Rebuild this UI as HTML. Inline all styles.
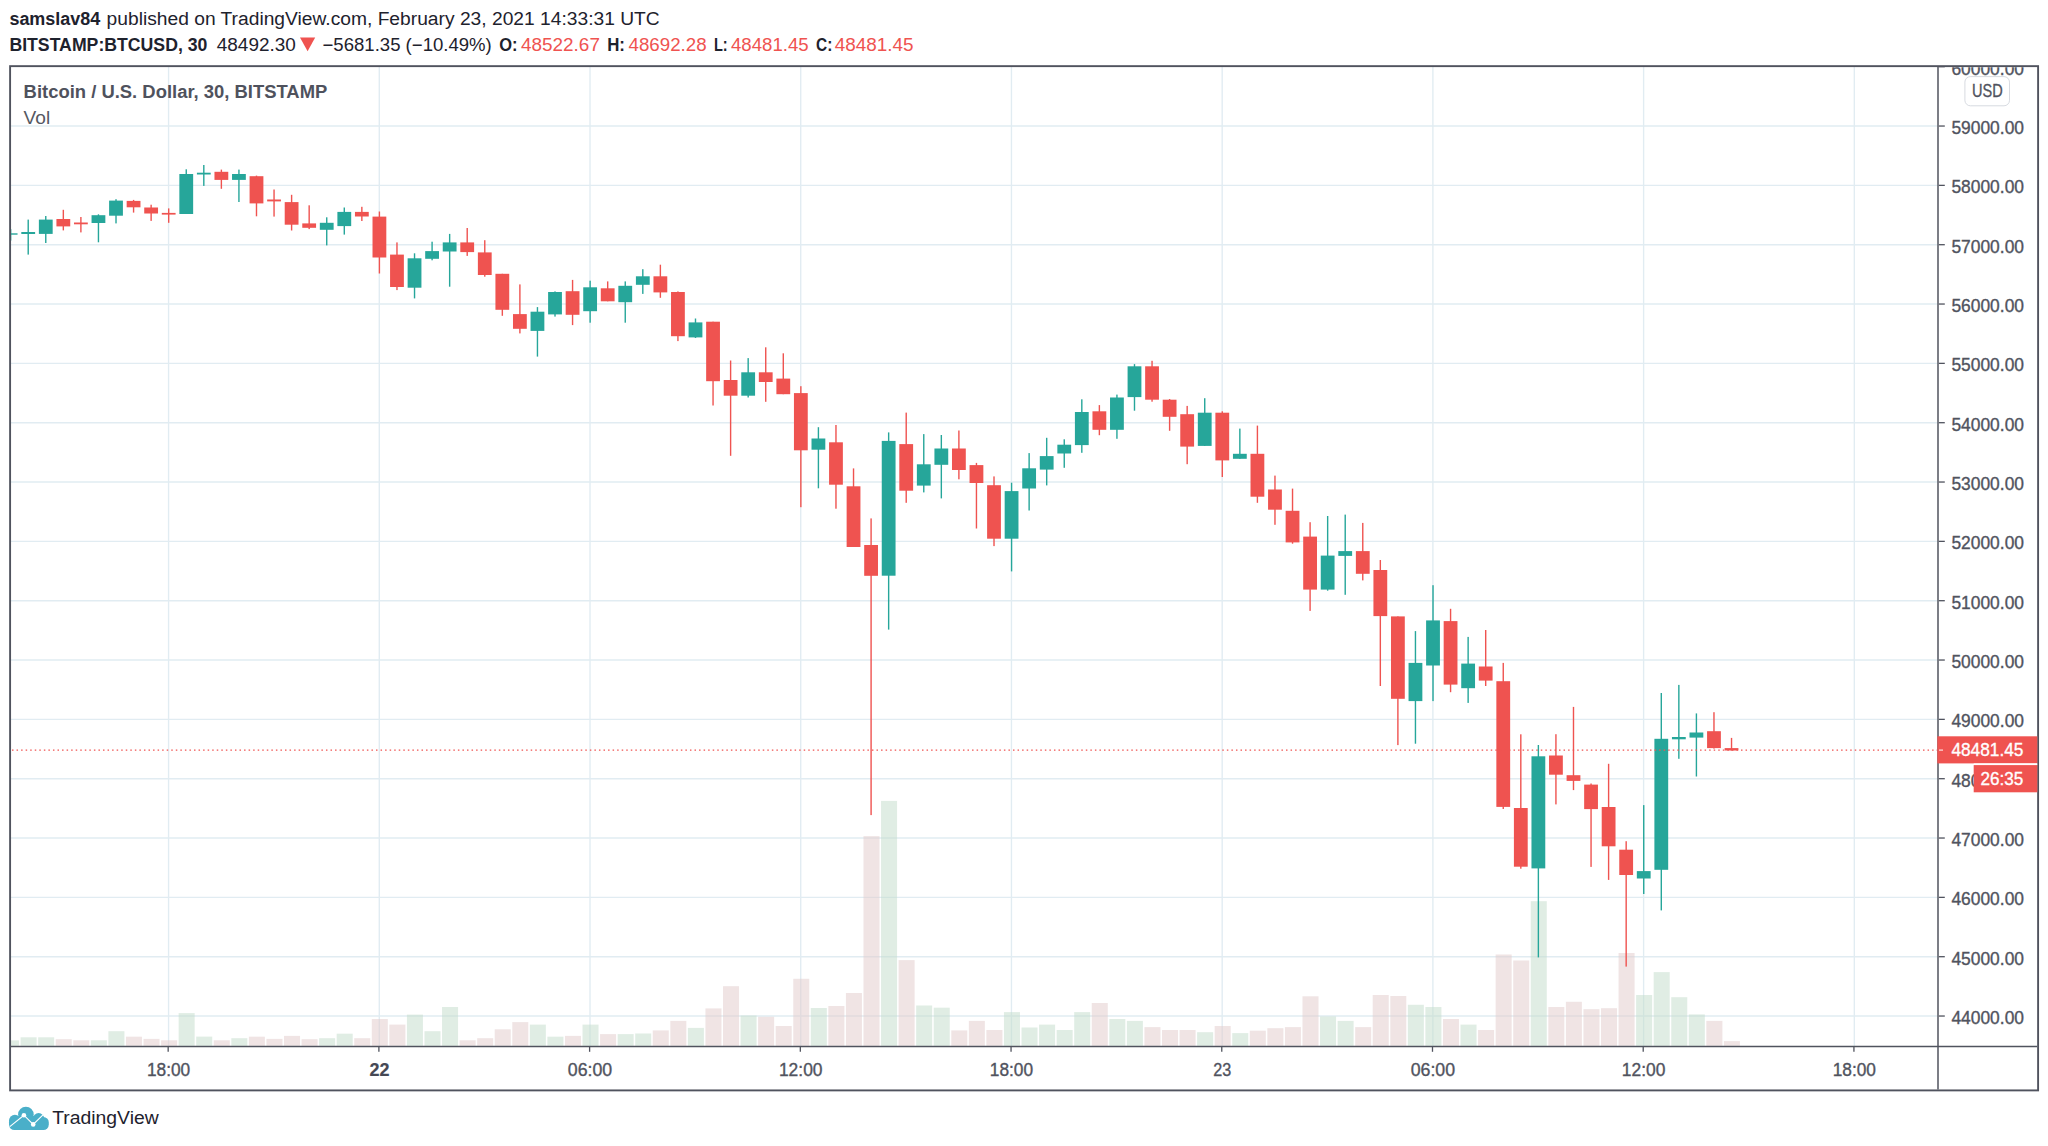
<!DOCTYPE html>
<html lang="en"><head><meta charset="utf-8"><title>BTCUSD chart</title>
<style>html,body{margin:0;padding:0;background:#fff}svg{display:block}text{font-family:"Liberation Sans",sans-serif}.b{font-weight:700}</style></head><body>
<svg width="2048" height="1146" viewBox="0 0 2048 1146">
<rect width="2048" height="1146" fill="#fff"/>
<text x="9.4" y="24.5" font-size="18" fill="#1e222d" class="b" textLength="90.9" lengthAdjust="spacingAndGlyphs">samslav84</text>
<text x="106.6" y="24.5" font-size="18" fill="#1e222d" textLength="553.1" lengthAdjust="spacingAndGlyphs">published on TradingView.com, February 23, 2021 14:33:31 UTC</text>
<text x="9.4" y="50.5" font-size="18" fill="#1e222d" class="b" textLength="198" lengthAdjust="spacingAndGlyphs">BITSTAMP:BTCUSD, 30</text>
<text x="216.8" y="50.5" font-size="18" fill="#1e222d" textLength="79" lengthAdjust="spacingAndGlyphs">48492.30</text>
<path d="M300 37.6 L315.2 37.6 L307.6 51.2 Z" fill="#ef5350"/>
<text x="322.5" y="50.5" font-size="18" fill="#1e222d" textLength="169.3" lengthAdjust="spacingAndGlyphs">−5681.35 (−10.49%)</text>
<text x="499.3" y="50.5" font-size="18" fill="#1e222d" class="b" textLength="18.3" lengthAdjust="spacingAndGlyphs">O:</text>
<text x="521" y="50.5" font-size="18" fill="#ef5350" textLength="78.9" lengthAdjust="spacingAndGlyphs">48522.67</text>
<text x="607.2" y="50.5" font-size="18" fill="#1e222d" class="b" textLength="17.8" lengthAdjust="spacingAndGlyphs">H:</text>
<text x="628.5" y="50.5" font-size="18" fill="#ef5350" textLength="78.1" lengthAdjust="spacingAndGlyphs">48692.28</text>
<text x="713.9" y="50.5" font-size="18" fill="#1e222d" class="b" textLength="13.7" lengthAdjust="spacingAndGlyphs">L:</text>
<text x="731" y="50.5" font-size="18" fill="#ef5350" textLength="77.7" lengthAdjust="spacingAndGlyphs">48481.45</text>
<text x="816" y="50.5" font-size="18" fill="#1e222d" class="b" textLength="16.3" lengthAdjust="spacingAndGlyphs">C:</text>
<text x="834.8" y="50.5" font-size="18" fill="#ef5350" textLength="78.8" lengthAdjust="spacingAndGlyphs">48481.45</text>
<g stroke="#e1ecf2" stroke-width="1.37" fill="none">
<path d="M168.57 67.1 V1045.9"/>
<path d="M379.29 67.1 V1045.9"/>
<path d="M590.01 67.1 V1045.9"/>
<path d="M800.73 67.1 V1045.9"/>
<path d="M1011.45 67.1 V1045.9"/>
<path d="M1222.17 67.1 V1045.9"/>
<path d="M1432.89 67.1 V1045.9"/>
<path d="M1643.61 67.1 V1045.9"/>
<path d="M1854.33 67.1 V1045.9"/>
<path d="M11 1016.03 H1937.3"/>
<path d="M11 956.7 H1937.3"/>
<path d="M11 897.37 H1937.3"/>
<path d="M11 838.03 H1937.3"/>
<path d="M11 778.7 H1937.3"/>
<path d="M11 719.37 H1937.3"/>
<path d="M11 660.03 H1937.3"/>
<path d="M11 600.7 H1937.3"/>
<path d="M11 541.37 H1937.3"/>
<path d="M11 482.03 H1937.3"/>
<path d="M11 422.7 H1937.3"/>
<path d="M11 363.37 H1937.3"/>
<path d="M11 304.04 H1937.3"/>
<path d="M11 244.7 H1937.3"/>
<path d="M11 185.37 H1937.3"/>
<path d="M11 126.04 H1937.3"/>
</g>
<rect x="11" y="1040.4" width="8.05" height="5.5" fill="#c1dbc9" fill-opacity="0.5"/>
<rect x="20.61" y="1037.3" width="16" height="8.6" fill="#c1dbc9" fill-opacity="0.5"/>
<rect x="38.17" y="1037.3" width="16" height="8.6" fill="#c1dbc9" fill-opacity="0.5"/>
<rect x="55.73" y="1039.2" width="16" height="6.7" fill="#e1c9c9" fill-opacity="0.5"/>
<rect x="73.29" y="1040.3" width="16" height="5.6" fill="#e1c9c9" fill-opacity="0.5"/>
<rect x="90.85" y="1040.3" width="16" height="5.6" fill="#c1dbc9" fill-opacity="0.5"/>
<rect x="108.41" y="1031.2" width="16" height="14.7" fill="#c1dbc9" fill-opacity="0.5"/>
<rect x="125.97" y="1036.7" width="16" height="9.2" fill="#e1c9c9" fill-opacity="0.5"/>
<rect x="143.53" y="1038.9" width="16" height="7" fill="#e1c9c9" fill-opacity="0.5"/>
<rect x="161.09" y="1040.3" width="16" height="5.6" fill="#e1c9c9" fill-opacity="0.5"/>
<rect x="178.65" y="1013.1" width="16" height="32.8" fill="#c1dbc9" fill-opacity="0.5"/>
<rect x="196.21" y="1036.6" width="16" height="9.3" fill="#c1dbc9" fill-opacity="0.5"/>
<rect x="213.77" y="1040.3" width="16" height="5.6" fill="#e1c9c9" fill-opacity="0.5"/>
<rect x="231.33" y="1038.2" width="16" height="7.7" fill="#c1dbc9" fill-opacity="0.5"/>
<rect x="248.89" y="1036.7" width="16" height="9.2" fill="#e1c9c9" fill-opacity="0.5"/>
<rect x="266.45" y="1038.9" width="16" height="7" fill="#e1c9c9" fill-opacity="0.5"/>
<rect x="284.01" y="1035.9" width="16" height="10" fill="#e1c9c9" fill-opacity="0.5"/>
<rect x="301.57" y="1039.2" width="16" height="6.7" fill="#e1c9c9" fill-opacity="0.5"/>
<rect x="319.13" y="1038.2" width="16" height="7.7" fill="#c1dbc9" fill-opacity="0.5"/>
<rect x="336.69" y="1033.7" width="16" height="12.2" fill="#c1dbc9" fill-opacity="0.5"/>
<rect x="354.25" y="1038.2" width="16" height="7.7" fill="#e1c9c9" fill-opacity="0.5"/>
<rect x="371.81" y="1019" width="16" height="26.9" fill="#e1c9c9" fill-opacity="0.5"/>
<rect x="389.37" y="1024.6" width="16" height="21.3" fill="#e1c9c9" fill-opacity="0.5"/>
<rect x="406.93" y="1014.6" width="16" height="31.3" fill="#c1dbc9" fill-opacity="0.5"/>
<rect x="424.49" y="1031.2" width="16" height="14.7" fill="#c1dbc9" fill-opacity="0.5"/>
<rect x="442.05" y="1007" width="16" height="38.9" fill="#c1dbc9" fill-opacity="0.5"/>
<rect x="459.61" y="1040.3" width="16" height="5.6" fill="#e1c9c9" fill-opacity="0.5"/>
<rect x="477.17" y="1038.2" width="16" height="7.7" fill="#e1c9c9" fill-opacity="0.5"/>
<rect x="494.73" y="1029.3" width="16" height="16.6" fill="#e1c9c9" fill-opacity="0.5"/>
<rect x="512.29" y="1022.1" width="16" height="23.8" fill="#e1c9c9" fill-opacity="0.5"/>
<rect x="529.85" y="1024.6" width="16" height="21.3" fill="#c1dbc9" fill-opacity="0.5"/>
<rect x="547.41" y="1036.7" width="16" height="9.2" fill="#c1dbc9" fill-opacity="0.5"/>
<rect x="564.97" y="1035.9" width="16" height="10" fill="#e1c9c9" fill-opacity="0.5"/>
<rect x="582.53" y="1024.6" width="16" height="21.3" fill="#c1dbc9" fill-opacity="0.5"/>
<rect x="600.09" y="1034.1" width="16" height="11.8" fill="#e1c9c9" fill-opacity="0.5"/>
<rect x="617.65" y="1034.1" width="16" height="11.8" fill="#c1dbc9" fill-opacity="0.5"/>
<rect x="635.21" y="1033.5" width="16" height="12.4" fill="#c1dbc9" fill-opacity="0.5"/>
<rect x="652.77" y="1030.4" width="16" height="15.5" fill="#e1c9c9" fill-opacity="0.5"/>
<rect x="670.33" y="1020.9" width="16" height="25" fill="#e1c9c9" fill-opacity="0.5"/>
<rect x="687.89" y="1027.9" width="16" height="18" fill="#c1dbc9" fill-opacity="0.5"/>
<rect x="705.45" y="1008.4" width="16" height="37.5" fill="#e1c9c9" fill-opacity="0.5"/>
<rect x="723.01" y="986.2" width="16" height="59.7" fill="#e1c9c9" fill-opacity="0.5"/>
<rect x="740.57" y="1015.5" width="16" height="30.4" fill="#c1dbc9" fill-opacity="0.5"/>
<rect x="758.13" y="1016.8" width="16" height="29.1" fill="#e1c9c9" fill-opacity="0.5"/>
<rect x="775.69" y="1026" width="16" height="19.9" fill="#e1c9c9" fill-opacity="0.5"/>
<rect x="793.25" y="978.8" width="16" height="67.1" fill="#e1c9c9" fill-opacity="0.5"/>
<rect x="810.81" y="1008" width="16" height="37.9" fill="#c1dbc9" fill-opacity="0.5"/>
<rect x="828.37" y="1006" width="16" height="39.9" fill="#e1c9c9" fill-opacity="0.5"/>
<rect x="845.93" y="993" width="16" height="52.9" fill="#e1c9c9" fill-opacity="0.5"/>
<rect x="863.49" y="836.1" width="16" height="209.8" fill="#e1c9c9" fill-opacity="0.5"/>
<rect x="881.05" y="800.9" width="16" height="245" fill="#c1dbc9" fill-opacity="0.5"/>
<rect x="898.61" y="960.1" width="16" height="85.8" fill="#e1c9c9" fill-opacity="0.5"/>
<rect x="916.17" y="1005.5" width="16" height="40.4" fill="#c1dbc9" fill-opacity="0.5"/>
<rect x="933.73" y="1007.7" width="16" height="38.2" fill="#c1dbc9" fill-opacity="0.5"/>
<rect x="951.29" y="1030.4" width="16" height="15.5" fill="#e1c9c9" fill-opacity="0.5"/>
<rect x="968.85" y="1020.9" width="16" height="25" fill="#e1c9c9" fill-opacity="0.5"/>
<rect x="986.41" y="1030" width="16" height="15.9" fill="#e1c9c9" fill-opacity="0.5"/>
<rect x="1003.97" y="1012.1" width="16" height="33.8" fill="#c1dbc9" fill-opacity="0.5"/>
<rect x="1021.53" y="1027.5" width="16" height="18.4" fill="#c1dbc9" fill-opacity="0.5"/>
<rect x="1039.09" y="1024.6" width="16" height="21.3" fill="#c1dbc9" fill-opacity="0.5"/>
<rect x="1056.65" y="1030" width="16" height="15.9" fill="#c1dbc9" fill-opacity="0.5"/>
<rect x="1074.21" y="1012.1" width="16" height="33.8" fill="#c1dbc9" fill-opacity="0.5"/>
<rect x="1091.77" y="1003" width="16" height="42.9" fill="#e1c9c9" fill-opacity="0.5"/>
<rect x="1109.33" y="1019" width="16" height="26.9" fill="#c1dbc9" fill-opacity="0.5"/>
<rect x="1126.89" y="1020.9" width="16" height="25" fill="#c1dbc9" fill-opacity="0.5"/>
<rect x="1144.45" y="1027.1" width="16" height="18.8" fill="#e1c9c9" fill-opacity="0.5"/>
<rect x="1162.01" y="1030" width="16" height="15.9" fill="#e1c9c9" fill-opacity="0.5"/>
<rect x="1179.57" y="1030" width="16" height="15.9" fill="#e1c9c9" fill-opacity="0.5"/>
<rect x="1197.13" y="1032.2" width="16" height="13.7" fill="#c1dbc9" fill-opacity="0.5"/>
<rect x="1214.69" y="1026" width="16" height="19.9" fill="#e1c9c9" fill-opacity="0.5"/>
<rect x="1232.25" y="1033.1" width="16" height="12.8" fill="#c1dbc9" fill-opacity="0.5"/>
<rect x="1249.81" y="1030.7" width="16" height="15.2" fill="#e1c9c9" fill-opacity="0.5"/>
<rect x="1267.37" y="1028.2" width="16" height="17.7" fill="#e1c9c9" fill-opacity="0.5"/>
<rect x="1284.93" y="1027.1" width="16" height="18.8" fill="#e1c9c9" fill-opacity="0.5"/>
<rect x="1302.49" y="996.3" width="16" height="49.6" fill="#e1c9c9" fill-opacity="0.5"/>
<rect x="1320.05" y="1016.5" width="16" height="29.4" fill="#c1dbc9" fill-opacity="0.5"/>
<rect x="1337.61" y="1020.9" width="16" height="25" fill="#c1dbc9" fill-opacity="0.5"/>
<rect x="1355.17" y="1027.1" width="16" height="18.8" fill="#e1c9c9" fill-opacity="0.5"/>
<rect x="1372.73" y="995" width="16" height="50.9" fill="#e1c9c9" fill-opacity="0.5"/>
<rect x="1390.29" y="996" width="16" height="49.9" fill="#e1c9c9" fill-opacity="0.5"/>
<rect x="1407.85" y="1004.8" width="16" height="41.1" fill="#c1dbc9" fill-opacity="0.5"/>
<rect x="1425.41" y="1007" width="16" height="38.9" fill="#c1dbc9" fill-opacity="0.5"/>
<rect x="1442.97" y="1019" width="16" height="26.9" fill="#e1c9c9" fill-opacity="0.5"/>
<rect x="1460.53" y="1024.6" width="16" height="21.3" fill="#c1dbc9" fill-opacity="0.5"/>
<rect x="1478.09" y="1030" width="16" height="15.9" fill="#e1c9c9" fill-opacity="0.5"/>
<rect x="1495.65" y="954.5" width="16" height="91.4" fill="#e1c9c9" fill-opacity="0.5"/>
<rect x="1513.21" y="960.5" width="16" height="85.4" fill="#e1c9c9" fill-opacity="0.5"/>
<rect x="1530.77" y="901.2" width="16" height="144.7" fill="#c1dbc9" fill-opacity="0.5"/>
<rect x="1548.33" y="1007" width="16" height="38.9" fill="#e1c9c9" fill-opacity="0.5"/>
<rect x="1565.89" y="1001.8" width="16" height="44.1" fill="#e1c9c9" fill-opacity="0.5"/>
<rect x="1583.45" y="1009.2" width="16" height="36.7" fill="#e1c9c9" fill-opacity="0.5"/>
<rect x="1601.01" y="1008.2" width="16" height="37.7" fill="#e1c9c9" fill-opacity="0.5"/>
<rect x="1618.57" y="953" width="16" height="92.9" fill="#e1c9c9" fill-opacity="0.5"/>
<rect x="1636.13" y="995" width="16" height="50.9" fill="#c1dbc9" fill-opacity="0.5"/>
<rect x="1653.69" y="972.1" width="16" height="73.8" fill="#c1dbc9" fill-opacity="0.5"/>
<rect x="1671.25" y="997.2" width="16" height="48.7" fill="#c1dbc9" fill-opacity="0.5"/>
<rect x="1688.81" y="1014.4" width="16" height="31.5" fill="#c1dbc9" fill-opacity="0.5"/>
<rect x="1706.37" y="1020.9" width="16" height="25" fill="#e1c9c9" fill-opacity="0.5"/>
<rect x="1723.93" y="1041.1" width="16" height="4.8" fill="#e1c9c9" fill-opacity="0.5"/>
<rect x="10.4" y="229.2" width="0.95" height="11.4" fill="#26a69a"/>
<rect x="11" y="233.3" width="6.55" height="1.4" fill="#26a69a"/>
<rect x="27.51" y="219.6" width="1.4" height="35" fill="#26a69a"/>
<rect x="21.31" y="232" width="13.8" height="2" fill="#26a69a"/>
<rect x="45.07" y="216" width="1.4" height="27" fill="#26a69a"/>
<rect x="38.87" y="219.6" width="13.8" height="14.3" fill="#26a69a"/>
<rect x="62.63" y="209.8" width="1.4" height="20.6" fill="#ef5350"/>
<rect x="56.43" y="219" width="13.8" height="7.4" fill="#ef5350"/>
<rect x="80.19" y="217" width="1.4" height="15.4" fill="#ef5350"/>
<rect x="73.99" y="222.5" width="13.8" height="1.8" fill="#ef5350"/>
<rect x="97.75" y="214.3" width="1.4" height="28" fill="#26a69a"/>
<rect x="91.55" y="215.2" width="13.8" height="7.8" fill="#26a69a"/>
<rect x="115.31" y="199.2" width="1.4" height="24.2" fill="#26a69a"/>
<rect x="109.11" y="200.6" width="13.8" height="15.1" fill="#26a69a"/>
<rect x="132.87" y="199.9" width="1.4" height="12.7" fill="#ef5350"/>
<rect x="126.67" y="200.9" width="13.8" height="6.4" fill="#ef5350"/>
<rect x="150.43" y="204.7" width="1.4" height="16.2" fill="#ef5350"/>
<rect x="144.23" y="207.5" width="13.8" height="6" fill="#ef5350"/>
<rect x="167.99" y="208.4" width="1.4" height="14.4" fill="#ef5350"/>
<rect x="161.79" y="212.9" width="13.8" height="1.7" fill="#ef5350"/>
<rect x="185.55" y="169.3" width="1.4" height="44.7" fill="#26a69a"/>
<rect x="179.35" y="174" width="13.8" height="40" fill="#26a69a"/>
<rect x="203.11" y="165" width="1.4" height="20.9" fill="#26a69a"/>
<rect x="196.91" y="172.7" width="13.8" height="1.8" fill="#26a69a"/>
<rect x="220.67" y="169.6" width="1.4" height="19.2" fill="#ef5350"/>
<rect x="214.47" y="171.8" width="13.8" height="8.1" fill="#ef5350"/>
<rect x="238.23" y="169.6" width="1.4" height="32.4" fill="#26a69a"/>
<rect x="232.03" y="174" width="13.8" height="5.9" fill="#26a69a"/>
<rect x="255.79" y="175.6" width="1.4" height="40.7" fill="#ef5350"/>
<rect x="249.59" y="176.2" width="13.8" height="27.2" fill="#ef5350"/>
<rect x="273.35" y="189.5" width="1.4" height="27.1" fill="#ef5350"/>
<rect x="267.15" y="199.5" width="13.8" height="1.9" fill="#ef5350"/>
<rect x="290.91" y="194.8" width="1.4" height="35.7" fill="#ef5350"/>
<rect x="284.71" y="202.1" width="13.8" height="22.6" fill="#ef5350"/>
<rect x="308.47" y="205.3" width="1.4" height="23.8" fill="#ef5350"/>
<rect x="302.27" y="223.4" width="13.8" height="4.4" fill="#ef5350"/>
<rect x="326.03" y="217.3" width="1.4" height="28.1" fill="#26a69a"/>
<rect x="319.83" y="222.8" width="13.8" height="7" fill="#26a69a"/>
<rect x="343.59" y="207.5" width="1.4" height="27.1" fill="#26a69a"/>
<rect x="337.39" y="211.9" width="13.8" height="14.2" fill="#26a69a"/>
<rect x="361.15" y="206.8" width="1.4" height="14.2" fill="#ef5350"/>
<rect x="354.95" y="211.9" width="13.8" height="4.6" fill="#ef5350"/>
<rect x="378.71" y="211.5" width="1.4" height="62" fill="#ef5350"/>
<rect x="372.51" y="216.6" width="13.8" height="40.9" fill="#ef5350"/>
<rect x="396.27" y="242.4" width="1.4" height="47.7" fill="#ef5350"/>
<rect x="390.07" y="254.6" width="13.8" height="32.4" fill="#ef5350"/>
<rect x="413.83" y="253.3" width="1.4" height="45.1" fill="#26a69a"/>
<rect x="407.63" y="258.3" width="13.8" height="29.4" fill="#26a69a"/>
<rect x="431.39" y="241.7" width="1.4" height="18.6" fill="#26a69a"/>
<rect x="425.19" y="251.1" width="13.8" height="7.7" fill="#26a69a"/>
<rect x="448.95" y="233.9" width="1.4" height="52.8" fill="#26a69a"/>
<rect x="442.75" y="242.4" width="13.8" height="9.1" fill="#26a69a"/>
<rect x="466.51" y="228" width="1.4" height="27.9" fill="#ef5350"/>
<rect x="460.31" y="242.4" width="13.8" height="9.7" fill="#ef5350"/>
<rect x="484.07" y="240.2" width="1.4" height="36.5" fill="#ef5350"/>
<rect x="477.87" y="252.4" width="13.8" height="22.6" fill="#ef5350"/>
<rect x="501.63" y="273.8" width="1.4" height="42" fill="#ef5350"/>
<rect x="495.43" y="273.8" width="13.8" height="36" fill="#ef5350"/>
<rect x="519.19" y="284.4" width="1.4" height="49" fill="#ef5350"/>
<rect x="512.99" y="314.1" width="13.8" height="14.7" fill="#ef5350"/>
<rect x="536.75" y="307.1" width="1.4" height="49.5" fill="#26a69a"/>
<rect x="530.55" y="311.7" width="13.8" height="19.2" fill="#26a69a"/>
<rect x="554.31" y="291.4" width="1.4" height="25.2" fill="#26a69a"/>
<rect x="548.11" y="292" width="13.8" height="22.4" fill="#26a69a"/>
<rect x="571.87" y="279.9" width="1.4" height="45.2" fill="#ef5350"/>
<rect x="565.67" y="291.2" width="13.8" height="23.6" fill="#ef5350"/>
<rect x="589.43" y="280.7" width="1.4" height="42" fill="#26a69a"/>
<rect x="583.23" y="287.3" width="13.8" height="23.9" fill="#26a69a"/>
<rect x="606.99" y="281.4" width="1.4" height="19.9" fill="#ef5350"/>
<rect x="600.79" y="288.3" width="13.8" height="13" fill="#ef5350"/>
<rect x="624.55" y="281.4" width="1.4" height="41.3" fill="#26a69a"/>
<rect x="618.35" y="285.8" width="13.8" height="16.4" fill="#26a69a"/>
<rect x="642.11" y="269.2" width="1.4" height="24.7" fill="#26a69a"/>
<rect x="635.91" y="276.3" width="13.8" height="8.5" fill="#26a69a"/>
<rect x="659.67" y="264.7" width="1.4" height="33.1" fill="#ef5350"/>
<rect x="653.47" y="276.3" width="13.8" height="16.1" fill="#ef5350"/>
<rect x="677.23" y="291.4" width="1.4" height="49.7" fill="#ef5350"/>
<rect x="671.03" y="292" width="13.8" height="44.2" fill="#ef5350"/>
<rect x="694.79" y="318.5" width="1.4" height="19.5" fill="#26a69a"/>
<rect x="688.59" y="322.4" width="13.8" height="15" fill="#26a69a"/>
<rect x="712.35" y="321.7" width="1.4" height="83.8" fill="#ef5350"/>
<rect x="706.15" y="321.7" width="13.8" height="59.5" fill="#ef5350"/>
<rect x="729.91" y="360.5" width="1.4" height="95.3" fill="#ef5350"/>
<rect x="723.71" y="380" width="13.8" height="15.7" fill="#ef5350"/>
<rect x="747.47" y="358.1" width="1.4" height="39.4" fill="#26a69a"/>
<rect x="741.27" y="372.3" width="13.8" height="23.4" fill="#26a69a"/>
<rect x="765.03" y="347.3" width="1.4" height="54.5" fill="#ef5350"/>
<rect x="758.83" y="372.3" width="13.8" height="9.7" fill="#ef5350"/>
<rect x="782.59" y="353.3" width="1.4" height="40.9" fill="#ef5350"/>
<rect x="776.39" y="378.6" width="13.8" height="15.6" fill="#ef5350"/>
<rect x="800.15" y="386.2" width="1.4" height="121" fill="#ef5350"/>
<rect x="793.95" y="393.1" width="13.8" height="57.2" fill="#ef5350"/>
<rect x="817.71" y="427.2" width="1.4" height="61.1" fill="#26a69a"/>
<rect x="811.51" y="438.5" width="13.8" height="11.2" fill="#26a69a"/>
<rect x="835.27" y="425" width="1.4" height="83.7" fill="#ef5350"/>
<rect x="829.07" y="442.3" width="13.8" height="42.4" fill="#ef5350"/>
<rect x="852.83" y="468.4" width="1.4" height="78.6" fill="#ef5350"/>
<rect x="846.63" y="486.3" width="13.8" height="60.7" fill="#ef5350"/>
<rect x="870.39" y="518.4" width="1.4" height="296.7" fill="#ef5350"/>
<rect x="864.19" y="545" width="13.8" height="30.8" fill="#ef5350"/>
<rect x="887.95" y="432.4" width="1.4" height="197.2" fill="#26a69a"/>
<rect x="881.75" y="440.9" width="13.8" height="134.8" fill="#26a69a"/>
<rect x="905.51" y="412.6" width="1.4" height="90.2" fill="#ef5350"/>
<rect x="899.31" y="444.1" width="13.8" height="46.6" fill="#ef5350"/>
<rect x="923.07" y="434.1" width="1.4" height="58.3" fill="#26a69a"/>
<rect x="916.87" y="464.3" width="13.8" height="21.3" fill="#26a69a"/>
<rect x="940.63" y="435" width="1.4" height="63.4" fill="#26a69a"/>
<rect x="934.43" y="448.5" width="13.8" height="16.3" fill="#26a69a"/>
<rect x="958.19" y="430.5" width="1.4" height="48.8" fill="#ef5350"/>
<rect x="951.99" y="448.5" width="13.8" height="21.5" fill="#ef5350"/>
<rect x="975.75" y="462.9" width="1.4" height="65.6" fill="#ef5350"/>
<rect x="969.55" y="465.1" width="13.8" height="17.9" fill="#ef5350"/>
<rect x="993.31" y="476.4" width="1.4" height="69.7" fill="#ef5350"/>
<rect x="987.11" y="485.2" width="13.8" height="53.5" fill="#ef5350"/>
<rect x="1010.87" y="482.7" width="1.4" height="88.7" fill="#26a69a"/>
<rect x="1004.67" y="491.1" width="13.8" height="47.6" fill="#26a69a"/>
<rect x="1028.43" y="453.1" width="1.4" height="57.4" fill="#26a69a"/>
<rect x="1022.23" y="468.3" width="13.8" height="20.2" fill="#26a69a"/>
<rect x="1045.99" y="437.8" width="1.4" height="47.6" fill="#26a69a"/>
<rect x="1039.79" y="456.1" width="13.8" height="13.5" fill="#26a69a"/>
<rect x="1063.55" y="439.3" width="1.4" height="28.5" fill="#26a69a"/>
<rect x="1057.35" y="444.7" width="13.8" height="8.8" fill="#26a69a"/>
<rect x="1081.11" y="399.3" width="1.4" height="53.5" fill="#26a69a"/>
<rect x="1074.91" y="412" width="13.8" height="33.1" fill="#26a69a"/>
<rect x="1098.67" y="405.1" width="1.4" height="30.1" fill="#ef5350"/>
<rect x="1092.47" y="411.3" width="13.8" height="18.5" fill="#ef5350"/>
<rect x="1116.23" y="394.6" width="1.4" height="44.2" fill="#26a69a"/>
<rect x="1110.03" y="397.5" width="13.8" height="32.3" fill="#26a69a"/>
<rect x="1133.79" y="364.1" width="1.4" height="46.6" fill="#26a69a"/>
<rect x="1127.59" y="366.3" width="13.8" height="30.8" fill="#26a69a"/>
<rect x="1151.35" y="360.8" width="1.4" height="40.9" fill="#ef5350"/>
<rect x="1145.15" y="366.3" width="13.8" height="33.4" fill="#ef5350"/>
<rect x="1168.91" y="399" width="1.4" height="31.8" fill="#ef5350"/>
<rect x="1162.71" y="399.7" width="13.8" height="17.1" fill="#ef5350"/>
<rect x="1186.47" y="405.9" width="1.4" height="58.3" fill="#ef5350"/>
<rect x="1180.27" y="414.2" width="13.8" height="32.4" fill="#ef5350"/>
<rect x="1204.03" y="398.2" width="1.4" height="47.7" fill="#26a69a"/>
<rect x="1197.83" y="412.7" width="13.8" height="33.2" fill="#26a69a"/>
<rect x="1221.59" y="411.3" width="1.4" height="65.7" fill="#ef5350"/>
<rect x="1215.39" y="412.7" width="13.8" height="47.7" fill="#ef5350"/>
<rect x="1239.15" y="428.6" width="1.4" height="30.2" fill="#26a69a"/>
<rect x="1232.95" y="453.8" width="13.8" height="5" fill="#26a69a"/>
<rect x="1256.71" y="425.6" width="1.4" height="77.2" fill="#ef5350"/>
<rect x="1250.51" y="453.8" width="13.8" height="42.9" fill="#ef5350"/>
<rect x="1274.27" y="475.6" width="1.4" height="49.2" fill="#ef5350"/>
<rect x="1268.07" y="489.5" width="13.8" height="20.2" fill="#ef5350"/>
<rect x="1291.83" y="488.6" width="1.4" height="55.1" fill="#ef5350"/>
<rect x="1285.63" y="510.8" width="13.8" height="31.6" fill="#ef5350"/>
<rect x="1309.39" y="522.2" width="1.4" height="88.7" fill="#ef5350"/>
<rect x="1303.19" y="536.6" width="13.8" height="53" fill="#ef5350"/>
<rect x="1326.95" y="516" width="1.4" height="74.7" fill="#26a69a"/>
<rect x="1320.75" y="555.6" width="13.8" height="34" fill="#26a69a"/>
<rect x="1344.51" y="514.6" width="1.4" height="80.2" fill="#26a69a"/>
<rect x="1338.31" y="551.1" width="13.8" height="4.8" fill="#26a69a"/>
<rect x="1362.07" y="522.9" width="1.4" height="57.5" fill="#ef5350"/>
<rect x="1355.87" y="551.1" width="13.8" height="22.7" fill="#ef5350"/>
<rect x="1379.63" y="560" width="1.4" height="126" fill="#ef5350"/>
<rect x="1373.43" y="570" width="13.8" height="46.1" fill="#ef5350"/>
<rect x="1397.19" y="616.4" width="1.4" height="128.7" fill="#ef5350"/>
<rect x="1390.99" y="616.4" width="13.8" height="82.4" fill="#ef5350"/>
<rect x="1414.75" y="631.1" width="1.4" height="112.6" fill="#26a69a"/>
<rect x="1408.55" y="662.9" width="13.8" height="38.2" fill="#26a69a"/>
<rect x="1432.31" y="585.2" width="1.4" height="115.9" fill="#26a69a"/>
<rect x="1426.11" y="620.4" width="13.8" height="45.1" fill="#26a69a"/>
<rect x="1449.87" y="608.8" width="1.4" height="83.4" fill="#ef5350"/>
<rect x="1443.67" y="621.1" width="13.8" height="63.5" fill="#ef5350"/>
<rect x="1467.43" y="636.9" width="1.4" height="66" fill="#26a69a"/>
<rect x="1461.23" y="663.6" width="13.8" height="24.6" fill="#26a69a"/>
<rect x="1484.99" y="630" width="1.4" height="56" fill="#ef5350"/>
<rect x="1478.79" y="666.5" width="13.8" height="14.1" fill="#ef5350"/>
<rect x="1502.55" y="662.9" width="1.4" height="146.1" fill="#ef5350"/>
<rect x="1496.35" y="681.2" width="13.8" height="125.7" fill="#ef5350"/>
<rect x="1520.11" y="734.3" width="1.4" height="134.4" fill="#ef5350"/>
<rect x="1513.91" y="808" width="13.8" height="58.7" fill="#ef5350"/>
<rect x="1537.67" y="745" width="1.4" height="212.4" fill="#26a69a"/>
<rect x="1531.47" y="756.3" width="13.8" height="112.1" fill="#26a69a"/>
<rect x="1555.23" y="734.2" width="1.4" height="70.2" fill="#ef5350"/>
<rect x="1549.03" y="755.5" width="13.8" height="19.2" fill="#ef5350"/>
<rect x="1572.79" y="706.9" width="1.4" height="83.2" fill="#ef5350"/>
<rect x="1566.59" y="775.2" width="13.8" height="5.7" fill="#ef5350"/>
<rect x="1590.35" y="783.5" width="1.4" height="83.4" fill="#ef5350"/>
<rect x="1584.15" y="784.6" width="13.8" height="24.5" fill="#ef5350"/>
<rect x="1607.91" y="763.8" width="1.4" height="116.1" fill="#ef5350"/>
<rect x="1601.71" y="807" width="13.8" height="39.3" fill="#ef5350"/>
<rect x="1625.47" y="841.2" width="1.4" height="125.4" fill="#ef5350"/>
<rect x="1619.27" y="849.7" width="13.8" height="25.3" fill="#ef5350"/>
<rect x="1643.03" y="805.1" width="1.4" height="88.9" fill="#26a69a"/>
<rect x="1636.83" y="871.1" width="13.8" height="7.4" fill="#26a69a"/>
<rect x="1660.59" y="693" width="1.4" height="217.4" fill="#26a69a"/>
<rect x="1654.39" y="738.8" width="13.8" height="131" fill="#26a69a"/>
<rect x="1678.15" y="684.9" width="1.4" height="73.9" fill="#26a69a"/>
<rect x="1671.95" y="737" width="13.8" height="2.3" fill="#26a69a"/>
<rect x="1695.71" y="713.4" width="1.4" height="63.1" fill="#26a69a"/>
<rect x="1689.51" y="732.5" width="13.8" height="5.1" fill="#26a69a"/>
<rect x="1713.27" y="712.2" width="1.4" height="36.4" fill="#ef5350"/>
<rect x="1707.07" y="731.2" width="13.8" height="16.9" fill="#ef5350"/>
<rect x="1730.83" y="737.9" width="1.4" height="12.6" fill="#ef5350"/>
<rect x="1724.63" y="748.1" width="13.8" height="2.4" fill="#ef5350"/>
<path d="M12 750.1 H1937.3" stroke="#ef5350" stroke-width="1.35" stroke-dasharray="1.5 3.05" fill="none"/>
<text x="23.6" y="97.9" font-size="17.6" fill="#4f525d" class="b" textLength="303.7" lengthAdjust="spacingAndGlyphs">Bitcoin / U.S. Dollar, 30, BITSTAMP</text>
<text x="23.6" y="123.5" font-size="17.6" fill="#555862" textLength="26.6" lengthAdjust="spacingAndGlyphs">Vol</text>
<path d="M1938.8 1016.03 H1944.8" stroke="#50535e" stroke-width="1.3"/>
<path d="M1938.8 956.7 H1944.8" stroke="#50535e" stroke-width="1.3"/>
<path d="M1938.8 897.37 H1944.8" stroke="#50535e" stroke-width="1.3"/>
<path d="M1938.8 838.03 H1944.8" stroke="#50535e" stroke-width="1.3"/>
<path d="M1938.8 778.7 H1944.8" stroke="#50535e" stroke-width="1.3"/>
<path d="M1938.8 719.37 H1944.8" stroke="#50535e" stroke-width="1.3"/>
<path d="M1938.8 660.03 H1944.8" stroke="#50535e" stroke-width="1.3"/>
<path d="M1938.8 600.7 H1944.8" stroke="#50535e" stroke-width="1.3"/>
<path d="M1938.8 541.37 H1944.8" stroke="#50535e" stroke-width="1.3"/>
<path d="M1938.8 482.03 H1944.8" stroke="#50535e" stroke-width="1.3"/>
<path d="M1938.8 422.7 H1944.8" stroke="#50535e" stroke-width="1.3"/>
<path d="M1938.8 363.37 H1944.8" stroke="#50535e" stroke-width="1.3"/>
<path d="M1938.8 304.04 H1944.8" stroke="#50535e" stroke-width="1.3"/>
<path d="M1938.8 244.7 H1944.8" stroke="#50535e" stroke-width="1.3"/>
<path d="M1938.8 185.37 H1944.8" stroke="#50535e" stroke-width="1.3"/>
<path d="M1938.8 126.04 H1944.8" stroke="#50535e" stroke-width="1.3"/>
<path d="M1938.8 66.7 H1944.8" stroke="#50535e" stroke-width="1.3"/>
<svg x="1939" y="67.2" width="98" height="978.6" viewBox="1939 67.2 98 978.6">
<text x="1951.4" y="1023.93" font-size="17.9" fill="#50535e" stroke="#50535e" stroke-width="0.35" textLength="72.6" lengthAdjust="spacingAndGlyphs">44000.00</text>
<text x="1951.4" y="964.6" font-size="17.9" fill="#50535e" stroke="#50535e" stroke-width="0.35" textLength="72.6" lengthAdjust="spacingAndGlyphs">45000.00</text>
<text x="1951.4" y="905.27" font-size="17.9" fill="#50535e" stroke="#50535e" stroke-width="0.35" textLength="72.6" lengthAdjust="spacingAndGlyphs">46000.00</text>
<text x="1951.4" y="845.93" font-size="17.9" fill="#50535e" stroke="#50535e" stroke-width="0.35" textLength="72.6" lengthAdjust="spacingAndGlyphs">47000.00</text>
<text x="1951.4" y="786.6" font-size="17.9" fill="#50535e" stroke="#50535e" stroke-width="0.35" textLength="72.6" lengthAdjust="spacingAndGlyphs">48000.00</text>
<text x="1951.4" y="727.27" font-size="17.9" fill="#50535e" stroke="#50535e" stroke-width="0.35" textLength="72.6" lengthAdjust="spacingAndGlyphs">49000.00</text>
<text x="1951.4" y="667.93" font-size="17.9" fill="#50535e" stroke="#50535e" stroke-width="0.35" textLength="72.6" lengthAdjust="spacingAndGlyphs">50000.00</text>
<text x="1951.4" y="608.6" font-size="17.9" fill="#50535e" stroke="#50535e" stroke-width="0.35" textLength="72.6" lengthAdjust="spacingAndGlyphs">51000.00</text>
<text x="1951.4" y="549.27" font-size="17.9" fill="#50535e" stroke="#50535e" stroke-width="0.35" textLength="72.6" lengthAdjust="spacingAndGlyphs">52000.00</text>
<text x="1951.4" y="489.93" font-size="17.9" fill="#50535e" stroke="#50535e" stroke-width="0.35" textLength="72.6" lengthAdjust="spacingAndGlyphs">53000.00</text>
<text x="1951.4" y="430.6" font-size="17.9" fill="#50535e" stroke="#50535e" stroke-width="0.35" textLength="72.6" lengthAdjust="spacingAndGlyphs">54000.00</text>
<text x="1951.4" y="371.27" font-size="17.9" fill="#50535e" stroke="#50535e" stroke-width="0.35" textLength="72.6" lengthAdjust="spacingAndGlyphs">55000.00</text>
<text x="1951.4" y="311.94" font-size="17.9" fill="#50535e" stroke="#50535e" stroke-width="0.35" textLength="72.6" lengthAdjust="spacingAndGlyphs">56000.00</text>
<text x="1951.4" y="252.6" font-size="17.9" fill="#50535e" stroke="#50535e" stroke-width="0.35" textLength="72.6" lengthAdjust="spacingAndGlyphs">57000.00</text>
<text x="1951.4" y="193.27" font-size="17.9" fill="#50535e" stroke="#50535e" stroke-width="0.35" textLength="72.6" lengthAdjust="spacingAndGlyphs">58000.00</text>
<text x="1951.4" y="133.94" font-size="17.9" fill="#50535e" stroke="#50535e" stroke-width="0.35" textLength="72.6" lengthAdjust="spacingAndGlyphs">59000.00</text>
<text x="1951.4" y="74.6" font-size="17.9" fill="#50535e" stroke="#50535e" stroke-width="0.35" textLength="72.6" lengthAdjust="spacingAndGlyphs">60000.00</text>
</svg>
<rect x="1964.9" y="76.6" width="44.6" height="29.2" rx="5.5" ry="5.5" fill="#fff" stroke="#d3d6dc" stroke-width="0.9"/>
<text x="1972" y="96.6" font-size="17.9" fill="#50535e" stroke="#50535e" stroke-width="0.35" textLength="30.7" lengthAdjust="spacingAndGlyphs">USD</text>
<path d="M168.17 1047 V1051.8" stroke="#50535e" stroke-width="1.3"/>
<text x="146.92" y="1076.4" font-size="18" fill="#50535e" stroke="#50535e" stroke-width="0.35" textLength="43.3" lengthAdjust="spacingAndGlyphs">18:00</text>
<path d="M378.89 1047 V1051.8" stroke="#50535e" stroke-width="1.3"/>
<text x="369.49" y="1076.4" font-size="18" fill="#454854" class="b" stroke="#454854" stroke-width="0.2" textLength="20" lengthAdjust="spacingAndGlyphs">22</text>
<path d="M589.61 1047 V1051.8" stroke="#50535e" stroke-width="1.3"/>
<text x="567.81" y="1076.4" font-size="18" fill="#50535e" stroke="#50535e" stroke-width="0.35" textLength="44.4" lengthAdjust="spacingAndGlyphs">06:00</text>
<path d="M800.33 1047 V1051.8" stroke="#50535e" stroke-width="1.3"/>
<text x="778.93" y="1076.4" font-size="18" fill="#50535e" stroke="#50535e" stroke-width="0.35" textLength="43.6" lengthAdjust="spacingAndGlyphs">12:00</text>
<path d="M1011.05 1047 V1051.8" stroke="#50535e" stroke-width="1.3"/>
<text x="989.8" y="1076.4" font-size="18" fill="#50535e" stroke="#50535e" stroke-width="0.35" textLength="43.3" lengthAdjust="spacingAndGlyphs">18:00</text>
<path d="M1221.77 1047 V1051.8" stroke="#50535e" stroke-width="1.3"/>
<text x="1213.17" y="1076.4" font-size="18" fill="#50535e" stroke="#50535e" stroke-width="0.35" textLength="18" lengthAdjust="spacingAndGlyphs">23</text>
<path d="M1432.49 1047 V1051.8" stroke="#50535e" stroke-width="1.3"/>
<text x="1410.69" y="1076.4" font-size="18" fill="#50535e" stroke="#50535e" stroke-width="0.35" textLength="44.4" lengthAdjust="spacingAndGlyphs">06:00</text>
<path d="M1643.21 1047 V1051.8" stroke="#50535e" stroke-width="1.3"/>
<text x="1621.81" y="1076.4" font-size="18" fill="#50535e" stroke="#50535e" stroke-width="0.35" textLength="43.6" lengthAdjust="spacingAndGlyphs">12:00</text>
<path d="M1853.93 1047 V1051.8" stroke="#50535e" stroke-width="1.3"/>
<text x="1832.68" y="1076.4" font-size="18" fill="#50535e" stroke="#50535e" stroke-width="0.35" textLength="43.3" lengthAdjust="spacingAndGlyphs">18:00</text>
<path d="M11 1046.5 H2037.2" stroke="#50535e" stroke-width="1.4" fill="none"/>
<path d="M1938 67 V1089.6" stroke="#50535e" stroke-width="1.5" fill="none"/>
<rect x="10.1" y="66.15" width="2028" height="1024.25" fill="none" stroke="#50535e" stroke-width="1.9"/>
<rect x="1937.3" y="736.3" width="100" height="27.1" fill="#ef5350"/>
<path d="M1939 750.1 H1943" stroke="#fbd5d4" stroke-width="1.3"/>
<text x="1951.4" y="756.4" font-size="17.9" fill="#fff" stroke="#fff" stroke-width="0.35" textLength="72" lengthAdjust="spacingAndGlyphs">48481.45</text>
<rect x="1973.7" y="763.4" width="63.6" height="1.7" fill="#fff"/>
<rect x="1973.7" y="765.1" width="63.6" height="27.2" fill="#ef5350"/>
<text x="1980.5" y="785" font-size="17.9" fill="#fff" stroke="#fff" stroke-width="0.35" textLength="42.9" lengthAdjust="spacingAndGlyphs">26:35</text>
<g fill="#4aafc9">
<circle cx="25.9" cy="1114.6" r="7.8"/>
<circle cx="38.6" cy="1118.6" r="5.6"/>
<circle cx="14.9" cy="1120.6" r="5.9"/>
<rect x="9" y="1117" width="39.8" height="13" rx="5.4" ry="5.4"/>
<rect x="14" y="1116" width="26" height="10"/>
</g>
<path d="M9.8 1126.6 L23.9 1115.2 L33.2 1124.4 L43.5 1114.4" stroke="#fff" stroke-width="1.1" fill="none"/>
<circle cx="23.9" cy="1115.2" r="2.3" fill="#fff"/><circle cx="33.2" cy="1124.4" r="2.3" fill="#fff"/>
<text x="52.2" y="1124.4" font-size="18.7" fill="#1e222d" textLength="106.5" lengthAdjust="spacingAndGlyphs">TradingView</text>
</svg></body></html>
